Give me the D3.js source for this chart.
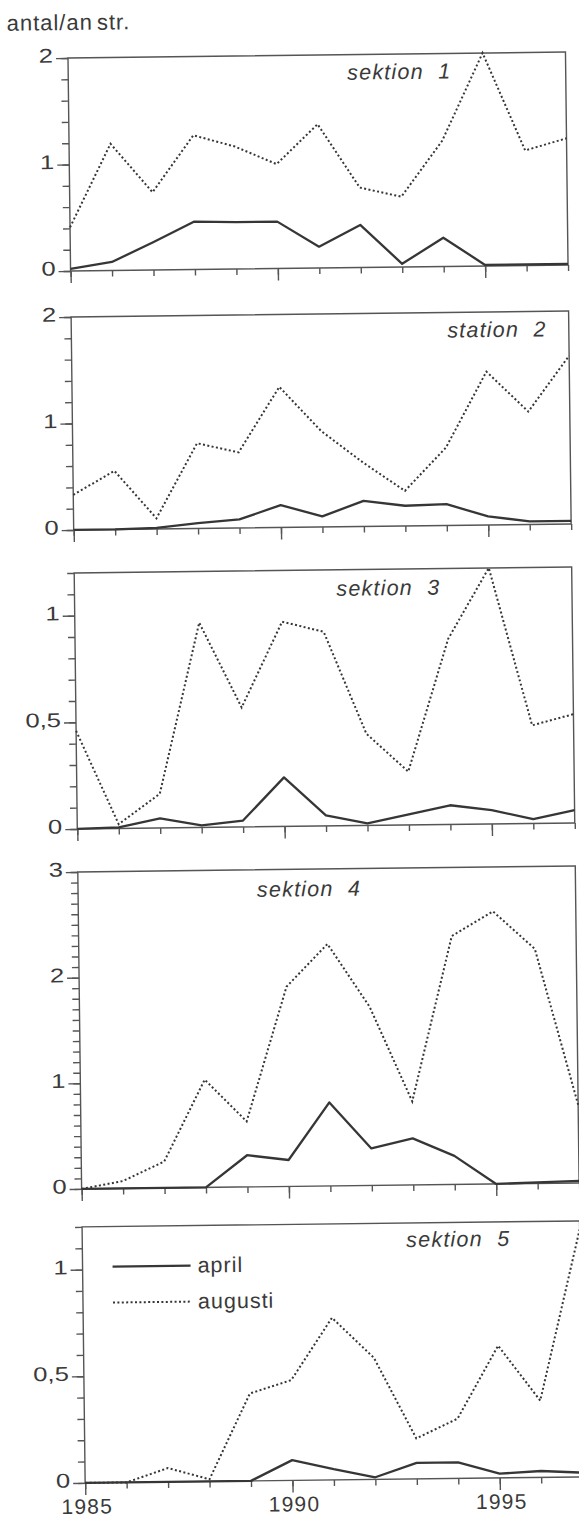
<!DOCTYPE html>
<html>
<head>
<meta charset="utf-8">
<script src="https://cdn.jsdelivr.net/npm/d3@7"></script>
<style>
  html, body { margin: 0; padding: 0; background: #ffffff; }
  svg { display: block; }
  text { font-family: "Liberation Sans", Arial, Helvetica, sans-serif; fill: #3a3a3a; }
</style>
</head>
<body>
<svg id="chart" width="579" height="1517"></svg>
<script>
// Years on the x axis
const years = [1985, 1986, 1987, 1988, 1989, 1990, 1991, 1992, 1993, 1994, 1995, 1996, 1997];
const yearLabels = [1985, 1990, 1995];

// Panel titles
const panelNames = ["sektion 1", "station 2", "sektion 3", "sektion 4", "sektion 5"];
const seriesNames = ["april", "augusti"];

// Catch per effort, April
const april1 = [0.02, 0.08, 0.26, 0.45, 0.44, 0.44, 0.20, 0.40, 0.03, 0.27, 0.01, 0.01, 0.01];
const april2 = [0.00, 0.00, 0.01, 0.05, 0.08, 0.21, 0.10, 0.24, 0.19, 0.20, 0.08, 0.03, 0.03];
const april3 = [0.00, 0.005, 0.045, 0.01, 0.03, 0.23, 0.05, 0.01, 0.05, 0.09, 0.065, 0.02, 0.06];
const april4 = [0.00, 0.00, 0.00, 0.00, 0.30, 0.25, 0.79, 0.35, 0.44, 0.27, 0.00, 0.01, 0.02];
const april5 = [0.00, 0.00, 0.00, 0.00, 0.00, 0.095, 0.05, 0.01, 0.075, 0.075, 0.02, 0.03, 0.02];

// Catch per effort, August
const augusti1 = [0.41, 1.19, 0.73, 1.26, 1.15, 0.98, 1.35, 0.75, 0.66, 1.18, 2.00, 1.08, 1.19];
const augusti2 = [0.33, 0.55, 0.10, 0.80, 0.71, 1.32, 0.90, 0.60, 0.33, 0.73, 1.44, 1.06, 1.58];
const augusti3 = [0.46, 0.02, 0.16, 0.96, 0.56, 0.96, 0.91, 0.43, 0.25, 0.87, 1.20, 0.46, 0.51];
const augusti4 = [0.00, 0.07, 0.25, 1.02, 0.62, 1.89, 2.29, 1.69, 0.79, 2.35, 2.58, 2.22, 0.74];
const augusti5 = [0.00, 0.00, 0.065, 0.01, 0.41, 0.47, 0.76, 0.57, 0.19, 0.28, 0.62, 0.36, 1.16];

// Value axis per panel
const yMax = [2, 2, 1.2, 3, 1.2];
const yLabelTicks = [[0, 1, 2], [0, 1, 2], [0, 0.5, 1], [0, 1, 2, 3], [0, 0.5, 1]];
const yMinorStep = [0.2, 0.2, 0.1, 0.1, 0.1];

const aprilSeries = [april1, april2, april3, april4, april5];
const augustiSeries = [augusti1, augusti2, augusti3, augusti4, augusti5];

// Layout
const left = 68, right = 565.5;
const panelBox = [[58, 271], [317, 530], [573, 829], [872, 1189], [1227, 1483]];
const titlePos = [[347, 83], [444, 342], [330, 599], [247, 899], [392, 1251]];
const ink = "#363636", axisInk = "#555";
const dots = "2,2.4";

const comma = d3.formatLocale({ decimal: ",", thousands: " ", grouping: [3], currency: ["", ""] });
const fmt = v => comma.format("~g")(v);

const svg = d3.select("#chart");
svg.append("rect").attr("width", 579).attr("height", 1517).attr("fill", "#fff");

// The whole sheet sits at a slight tilt
const sheet = svg.append("g").attr("transform", `rotate(-0.69, ${left}, 58)`);

const x = d3.scaleLinear().domain([years[0], years[years.length - 1]]).range([left, right]);

sheet.append("text")
  .attr("x", 7).attr("y", 30)
  .attr("font-size", 22).attr("letter-spacing", 1)
  .text("antal/an")
  .append("tspan").attr("dx", 4).text("str.");

panelNames.forEach((name, i) => {
  const [top, bottom] = panelBox[i];
  const y = d3.scaleLinear().domain([0, yMax[i]]).range([bottom, top]);
  const g = sheet.append("g");

  // Frame
  g.append("rect")
    .attr("x", left).attr("y", top)
    .attr("width", right - left).attr("height", bottom - top)
    .attr("fill", "none").attr("stroke", axisInk).attr("stroke-width", 1.4);

  // Minor y ticks
  const minor = d3.range(0, yMax[i] + 1e-6, yMinorStep[i]);
  const yMinorAxis = d3.axisLeft(y).tickValues(minor).tickSize(7).tickFormat("");
  g.append("g").attr("transform", `translate(${left},0)`).call(yMinorAxis);

  // Labelled y ticks (the face is set wide, as on the printed sheet)
  const yMajorAxis = d3.axisLeft(y).tickValues(yLabelTicks[i]).tickSize(12).tickPadding(3).tickFormat(fmt);
  const ym = g.append("g").attr("transform", `translate(${left},0)`).call(yMajorAxis);
  ym.selectAll("text")
    .attr("font-size", 20).attr("dy", "0.2em")
    .each(function () {
      const w = this.getComputedTextLength();
      d3.select(this).attr("textLength", w * 1.28).attr("lengthAdjust", "spacingAndGlyphs");
    });

  // Year ticks
  const xMinorAxis = d3.axisBottom(x).tickValues(years).tickSize(6).tickFormat("");
  g.append("g").attr("transform", `translate(0,${bottom})`).call(xMinorAxis);
  const xMajorAxis = d3.axisBottom(x).tickValues(yearLabels).tickSize(12).tickPadding(4)
    .tickFormat(i === panelNames.length - 1 ? d3.format("d") : "");
  const xm = g.append("g").attr("transform", `translate(0,${bottom})`).call(xMajorAxis);
  xm.selectAll("text").attr("font-size", 21).attr("letter-spacing", 1.2).attr("dx", "0.06em");

  g.selectAll(".domain").remove();
  g.selectAll(".tick line").attr("stroke", axisInk).attr("stroke-width", 1.4);
  g.selectAll(".tick text").attr("fill", ink).attr("font-family", null);

  // Series
  const line = d3.line().x((d, k) => x(years[k])).y(d => y(d));
  g.append("path").datum(augustiSeries[i])
    .attr("d", line).attr("fill", "none")
    .attr("stroke", ink).attr("stroke-width", 2).attr("stroke-dasharray", dots);
  g.append("path").datum(aprilSeries[i])
    .attr("d", line).attr("fill", "none")
    .attr("stroke", ink).attr("stroke-width", 2.3).attr("stroke-linejoin", "round");

  // Panel title
  g.append("text")
    .attr("x", titlePos[i][0]).attr("y", titlePos[i][1])
    .attr("font-size", 21.5).attr("font-style", "italic").attr("letter-spacing", 1.2)
    .attr("xml:space", "preserve")
    .text(name.replace(" ", "  "));
});

// Legend inside the last panel
const legend = sheet.append("g");
const legendRows = [
  { name: seriesNames[0], y: 1267, dash: null, width: 2.3 },
  { name: seriesNames[1], y: 1303, dash: dots, width: 2 }
];
legendRows.forEach(r => {
  legend.append("line")
    .attr("x1", 98).attr("x2", 176).attr("y1", r.y).attr("y2", r.y)
    .attr("stroke", ink).attr("stroke-width", r.width)
    .attr("stroke-dasharray", r.dash);
  legend.append("text")
    .attr("x", 183).attr("y", r.y + 7)
    .attr("font-size", 21.5).attr("letter-spacing", 1)
    .text(r.name);
});
</script>
</body>
</html>
